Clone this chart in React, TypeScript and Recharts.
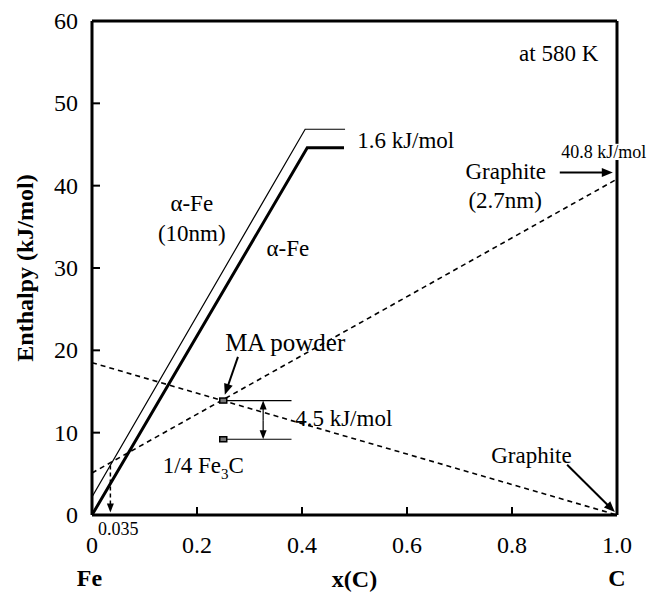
import React from 'react';
import { ComposedChart, Line, Scatter, XAxis, YAxis, ReferenceLine, ReferenceDot } from 'recharts';

// enthalpy vs carbon fraction
const alphaFeX = [0, 0.41, 0.48];
const alphaFeY = [0, 44.6, 44.6];
const alphaFeNanoX = [0, 0.406, 0.482];
const alphaFeNanoY = [2.2, 46.85, 46.85];
const graphiteX = [0, 1];
const graphiteY = [18.5, 0];
const graphiteNanoX = [0, 1];
const graphiteNanoY = [5.1, 40.8];
const powderLevelX = [0.25, 0.38];
const powderLevelY = [13.9, 13.9];
const cementiteLevelX = [0.25, 0.38];
const cementiteLevelY = [9.2, 9.2];
const markerX = [0.25, 0.25];
const markerY = [13.9, 9.2];

const xTicks = [0, 0.2, 0.4, 0.6, 0.8, 1.0];
const xTickLabels = ['0', '0.2', '0.4', '0.6', '0.8', '1.0'];
const yTicks = [0, 10, 20, 30, 40, 50, 60];

const toPoints = (xs: number[], ys: number[]) => xs.map((x, i) => ({ x, y: ys[i] }));

// arrows: start -> end in data units
const arrows = [
  { x1: 0.278, y1: 19.2, x2: 0.253, y2: 14.6, w: 2 },
  { x1: 0.891, y1: 41.6, x2: 0.992, y2: 41.6, w: 2 },
  { x1: 0.905, y1: 6.1, x2: 0.996, y2: 0.35, w: 2 },
  { x1: 0.326, y1: 11.5, x2: 0.326, y2: 13.9, w: 1.2 },
  { x1: 0.326, y1: 11.5, x2: 0.326, y2: 9.2, w: 1.2 },
  { x1: 0.035, y1: 6.0, x2: 0.035, y2: 0.3, w: 1.5, dashed: true },
];

// text annotations, anchored in data units
const notes = [
  { x: 0.889, y: 56.1, text: 'at 580 K', size: 23 },
  { x: 0.505, y: 45.5, text: '1.6 kJ/mol', size: 23, anchor: 'start' },
  { x: 0.975, y: 44.1, text: '40.8 kJ/mol', size: 18, bg: true },
  { x: 0.788, y: 41.7, text: 'Graphite', size: 23 },
  { x: 0.787, y: 38.2, text: '(2.7nm)', size: 23 },
  { x: 0.19, y: 37.9, text: 'α-Fe', size: 23 },
  { x: 0.19, y: 34.25, text: '(10nm)', size: 23 },
  { x: 0.373, y: 32.4, text: 'α-Fe', size: 23 },
  { x: 0.368, y: 21.0, text: 'MA powder', size: 25 },
  { x: 0.387, y: 11.8, text: '4.5 kJ/mol', size: 23, anchor: 'start' },
  { x: 0.837, y: 7.3, text: 'Graphite', size: 23 },
  { x: 0.05, y: -1.7, text: '0.035', size: 18 },
  { x: -0.005, y: -7.65, text: 'Fe', size: 24, bold: true },
  { x: 1.0, y: -7.65, text: 'C', size: 24, bold: true },
];
const fe3cNote = { x: 0.212, y: 6.07, size: 23 };

const FONT = '"Liberation Serif", "Times New Roman", serif';

const headPoints = (x1: number, y1: number, x2: number, y2: number, len: number, half: number) => {
  const a = Math.atan2(y2 - y1, x2 - x1);
  const bx = x2 - len * Math.cos(a);
  const by = y2 - len * Math.sin(a);
  const px = -Math.sin(a) * half;
  const py = Math.cos(a) * half;
  return `${x2},${y2} ${bx + px},${by + py} ${bx - px},${by - py}`;
};

const arrowShape = (w: number, dashed?: boolean) => (p: any) => {
  const { x1, y1, x2, y2 } = p;
  const len = w > 1.5 ? 11 : 9;
  const a = Math.atan2(y2 - y1, x2 - x1);
  const ex = x2 - len * 0.7 * Math.cos(a);
  const ey = y2 - len * 0.7 * Math.sin(a);
  return (
    <g>
      <line x1={x1} y1={y1} x2={ex} y2={ey} stroke="#000" strokeWidth={w} strokeDasharray={dashed ? '4 3' : undefined} />
      <polygon points={headPoints(x1, y1, x2, y2, len, w > 1.5 ? 4.5 : 3.5)} fill="#000" />
    </g>
  );
};

const XTick = (props: any) => {
  const { x, y, payload } = props;
  const i = xTicks.indexOf(payload.value);
  return (
    <g>
      <line x1={x} y1={y} x2={x} y2={y - 8} stroke="#000" strokeWidth={2} />
      <text x={x} y={y + 38} textAnchor="middle" fontSize={24} fontFamily={FONT} fill="#000">
        {xTickLabels[i]}
      </text>
    </g>
  );
};

const YTick = (props: any) => {
  const { x, y, payload } = props;
  return (
    <g>
      <line x1={x} y1={y} x2={x + 8} y2={y} stroke="#000" strokeWidth={2} />
      <text x={x - 14} y={y + 8} textAnchor="end" fontSize={24} fontFamily={FONT} fill="#000">
        {payload.value}
      </text>
    </g>
  );
};

const square = (p: any) => (
  <rect x={p.cx - 3.5} y={p.cy - 2.5} width={7} height={5} fill="#777" stroke="#000" strokeWidth={1.5} />
);

export default function App() {
  return (
    <div style={{ position: 'absolute', left: 0, top: 0, width: 660, height: 603, background: '#fff' }}>
      <ComposedChart width={660} height={603} margin={{ top: 21, right: 43, bottom: 48, left: 32 }}>
        <XAxis
          type="number"
          dataKey="x"
          domain={[0, 1]}
          ticks={xTicks}
          interval={0}
          height={40}
          tickSize={0}
          tickMargin={0}
          tickLine={false}
          tick={<XTick />}
          axisLine={{ stroke: '#000', strokeWidth: 3 }}
          allowDataOverflow
          label={{ value: 'x(C)', position: 'bottom', offset: 15, fill: '#000', fontSize: 24, fontWeight: 'bold', fontFamily: FONT }}
        />
        <YAxis
          type="number"
          dataKey="y"
          domain={[0, 60]}
          ticks={yTicks}
          interval={0}
          width={60}
          tickSize={0}
          tickMargin={0}
          tickLine={false}
          tick={<YTick />}
          axisLine={{ stroke: '#000', strokeWidth: 3 }}
          allowDataOverflow
          label={{
            value: 'Enthalpy (kJ/mol)',
            angle: -90,
            position: 'left',
            offset: 8,
            fill: '#000',
            fontSize: 24,
            fontWeight: 'bold',
            fontFamily: FONT,
            style: { textAnchor: 'middle' },
          }}
        />
        <ReferenceLine y={60} stroke="#000" strokeWidth={3} />
        <ReferenceLine x={1} stroke="#000" strokeWidth={3} />

        <Line data={toPoints(graphiteX, graphiteY)} dataKey="y" type="linear" stroke="#000" strokeWidth={1.6} strokeDasharray="5 4" dot={false} isAnimationActive={false} />
        <Line data={toPoints(graphiteNanoX, graphiteNanoY)} dataKey="y" type="linear" stroke="#000" strokeWidth={1.6} strokeDasharray="5 4" dot={false} isAnimationActive={false} />
        <Line data={toPoints(alphaFeNanoX, alphaFeNanoY)} dataKey="y" type="linear" stroke="#000" strokeWidth={1.2} dot={false} isAnimationActive={false} />
        <Line data={toPoints(alphaFeX, alphaFeY)} dataKey="y" type="linear" stroke="#000" strokeWidth={3} dot={false} isAnimationActive={false} />
        <Line data={toPoints(powderLevelX, powderLevelY)} dataKey="y" type="linear" stroke="#000" strokeWidth={1.2} dot={false} isAnimationActive={false} />
        <Line data={toPoints(cementiteLevelX, cementiteLevelY)} dataKey="y" type="linear" stroke="#000" strokeWidth={1.2} dot={false} isAnimationActive={false} />
        <Scatter data={toPoints(markerX, markerY)} shape={square} isAnimationActive={false} />

        {arrows.map((a, i) => (
          <ReferenceLine
            key={`arrow-${i}`}
            segment={[{ x: a.x1, y: a.y1 }, { x: a.x2, y: a.y2 }]}
            ifOverflow="visible"
            stroke="#000"
            shape={arrowShape(a.w, a.dashed)}
          />
        ))}

        {notes.map((n, i) => (
          <ReferenceDot
            key={`note-${i}`}
            x={n.x}
            y={n.y}
            r={0}
            ifOverflow="visible"
            shape={(p: any) => (
              <g>
                {n.bg && (
                  <rect
                    x={p.cx - n.text.length * n.size * 0.24}
                    y={p.cy - n.size * 0.45}
                    width={n.text.length * n.size * 0.48}
                    height={n.size * 0.9}
                    fill="#fff"
                  />
                )}
                <text
                  x={p.cx}
                  y={p.cy}
                  dy="0.34em"
                  textAnchor={n.anchor || 'middle'}
                  fontSize={n.size}
                  fontWeight={n.bold ? 'bold' : 'normal'}
                  fontFamily={FONT}
                  fill="#000"
                >
                  {n.text}
                </text>
              </g>
            )}
          />
        ))}
        <ReferenceDot
          x={fe3cNote.x}
          y={fe3cNote.y}
          r={0}
          ifOverflow="visible"
          shape={(p: any) => (
            <text x={p.cx} y={p.cy} dy="0.34em" textAnchor="middle" fontSize={fe3cNote.size} fontFamily={FONT} fill="#000">
              1/4 Fe
              <tspan dy={6} fontSize={15}>3</tspan>
              <tspan dy={-6}>C</tspan>
            </text>
          )}
        />
      </ComposedChart>
    </div>
  );
}
